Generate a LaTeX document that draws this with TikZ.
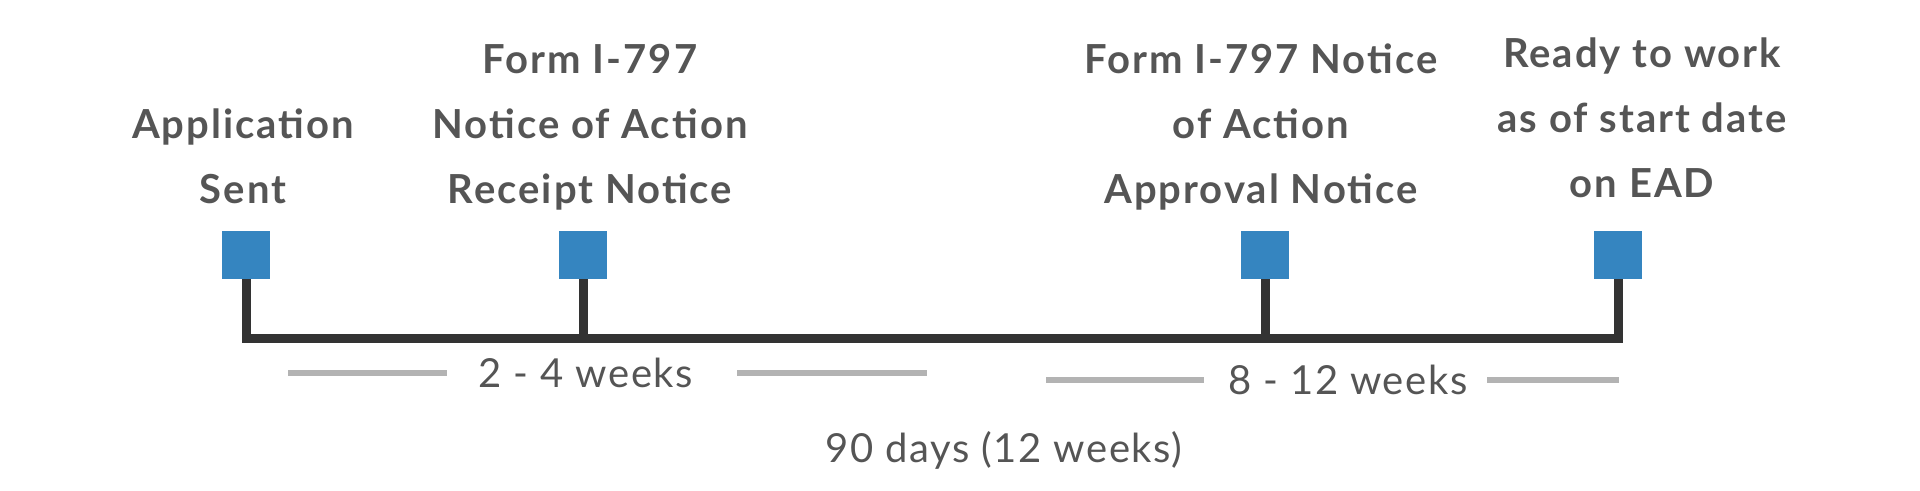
\documentclass[tikz,border=0pt]{standalone}
\usepackage{fontspec}
\setmainfont{Lato}
\usetikzlibrary{positioning}

\definecolor{eventblue}{HTML}{3585C0}
\definecolor{labelgray}{HTML}{555555}
\definecolor{axisgray}{HTML}{333333}
\definecolor{bargray}{HTML}{B3B3B3}

\begin{document}
\begin{tikzpicture}[x=0.5pt,y=0.5pt,
    event/.style={rectangle,fill=eventblue,minimum size=24pt,inner sep=0pt},
    caption/.style={align=center,inner sep=0pt,text depth=0pt,text=labelgray,
        font=\bfseries\fontsize{20}{32.5}\selectfont\addfontfeature{LetterSpace=5}},
    duration/.style={inner sep=0pt,text=labelgray,
        font=\fontsize{20}{24}\selectfont\addfontfeature{LetterSpace=4}},
    axis/.style={axisgray,line width=4.5pt,line join=miter},
    span/.style={bargray,line width=3pt}]
	\useasboundingbox (0,0) rectangle (1920,491);

	\node[event]            (sent)      at (246,236)                             {};
	\node[event]            (receipt)   [right of = sent, node distance=168.5pt]     {};
	\node[event]            (approval)  [right of = receipt, node distance=341pt]    {};
	\node[event]            (ready)     [right of = approval, node distance=176.5pt] {};

	\node[caption]  (sentlbl)     [above=13.5pt of sent, xshift=-1.5pt]      {Application\\Sent};
	\node[caption]  (receiptlbl)  [above=13.5pt of receipt, xshift=3.5pt]    {Form I-797\\Notice of Action\\Receipt Notice};
	\node[caption]  (approvallbl) [above=13.5pt of approval, xshift=-2pt]    {Form I-797 Notice\\of Action\\Approval Notice};
	\node[caption]  (readylbl)    [above=16.5pt of ready, xshift=12pt]       {Ready to work\\as of start date\\on EAD};

	% timeline
	\coordinate (base) at (0,152);
	\draw[axis] (sent.south) -- (sent.south |- base) -- (ready.south |- base) -- (ready.south);
	\draw[axis] (receipt.south) -- (receipt.south |- base);
	\draw[axis] (approval.south) -- (approval.south |- base);

	\node[duration] (short) at (586,118)  {2 - 4 weeks};
	\node[duration] (long)  at (1348,111) {8 - 12 weeks};
	\node[duration] (total) at (1004,41)  {90 days (12 weeks)};

	\draw[span] (288,118) -- (447,118);
	\draw[span] (737,118) -- (927,118);
	\draw[span] (1046,111) -- (1204,111);
	\draw[span] (1487,111) -- (1619,111);
\end{tikzpicture}
\end{document}
